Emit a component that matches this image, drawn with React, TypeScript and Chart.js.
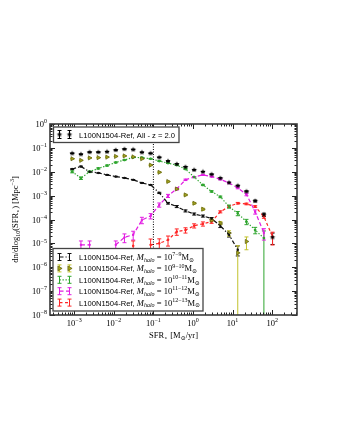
import React, { useEffect, useRef } from 'react';
import { Chart, registerables } from 'chart.js';
Chart.register(...registerables);

// ---------- data ----------
const sfrBins = [8.91e-4, 1.48e-3, 2.45e-3, 4.07e-3, 6.76e-3, 1.12e-2, 1.86e-2, 3.09e-2, 5.13e-2, 8.51e-2, 0.141, 0.234, 0.389, 0.646, 1.07, 1.78, 2.95, 4.9, 8.13, 13.5, 22.4, 37.2, 61.7, 102];

const phiAll = [5.9e-2, 5.4e-2, 6.6e-2, 6.6e-2, 6.9e-2, 8.1e-2, 8.9e-2, 8.5e-2, 6.5e-2, 5.9e-2, 4.0e-2, 2.8e-2, 2.1e-2, 1.6e-2, 1.2e-2, 1.0e-2, 7.8e-3, 5.4e-3, 3.5e-3, 2.6e-3, 1.5e-3, 6.0e-4, 1.6e-4, 1.8e-5];
const errAll = [0.02, 0.02, 0.02, 0.02, 0.02, 0.02, 0.02, 0.02, 0.02, 0.02, 0.02, 0.02, 0.02, 0.02, 0.02, 0.02, 0.03, 0.03, 0.04, 0.04, 0.05, 0.08, 0.15, 0.5];

const phiM7_9 = [1.3e-2, 1.66e-2, 1.0e-2, 8.9e-3, 7.4e-3, 6.3e-3, 5.5e-3, 4.6e-3, 3.4e-3, 2.8e-3, 1.3e-3, 4.8e-4, 3.5e-4, 2.3e-4, 1.7e-4, 1.4e-4, 1.1e-4, 5.4e-5, 2.3e-5, 5.4e-6];
const errM7_9 = [0.04, 0.04, 0.03, 0.03, 0.03, 0.03, 0.03, 0.03, 0.04, 0.04, 0.06, 0.08, 0.1, 0.1, 0.1, 0.1, 0.1, 0.15, 0.2, 0.45];

const phiM9_10 = [3.5e-2, 3.0e-2, 3.8e-2, 3.9e-2, 4.1e-2, 4.4e-2, 4.6e-2, 4.2e-2, 3.5e-2, 1.9e-2, 9.5e-3, 3.9e-3, 1.9e-3, 1.07e-3, 4.8e-4, 2.7e-4, 9.3e-5, 7.1e-5, 2.7e-5, 4.0e-6, 1.2e-5];
const errM9_10 = [0.02, 0.02, 0.02, 0.02, 0.02, 0.02, 0.02, 0.02, 0.02, 0.03, 0.04, 0.05, 0.06, 0.07, 0.08, 0.1, 0.12, 0.15, 0.25, 1.0, 0.55];

const phiM10_11 = [1.0e-2, 5.4e-3, 1.0e-2, 1.38e-2, 1.82e-2, 2.45e-2, 3.1e-2, 4.0e-2, 3.9e-2, 3.5e-2, 2.8e-2, 2.3e-2, 1.9e-2, 1.29e-2, 6.0e-3, 2.8e-3, 1.5e-3, 8.9e-4, 3.5e-4, 1.8e-4, 8.1e-5, 3.6e-5, 1.66e-5];
const errM10_11 = [0.1, 0.12, 0.08, 0.06, 0.05, 0.04, 0.03, 0.03, 0.03, 0.03, 0.03, 0.03, 0.03, 0.04, 0.05, 0.06, 0.07, 0.08, 0.15, 0.2, 0.25, 0.3, 1.0];

const phiM11_12 = [null, 8.7e-6, 8.7e-6, null, null, 8.7e-6, 1.78e-5, 2.3e-5, 9.5e-5, 1.41e-4, 4.1e-4, 9.8e-4, 1.9e-3, 4.6e-3, 6.0e-3, 7.4e-3, 6.3e-3, 4.8e-3, 3.4e-3, 2.1e-3, 1.12e-3, 2.1e-4, 2.75e-5];
const errM11_12 = [0, 0.45, 0.45, 0, 0, 0.45, 0.4, 0.4, 0.3, 0.25, 0.2, 0.15, 0.1, 0.07, 0.05, 0.05, 0.05, 0.05, 0.06, 0.08, 0.12, 0.2, 0.5];

const phiM12_13 = [null, null, null, null, null, null, null, 7.9e-6, null, 8.7e-6, 1.0e-5, 1.4e-5, 3.1e-5, 3.6e-5, 5.5e-5, 6.6e-5, 8.1e-5, 2.1e-4, 3.5e-4, 4.8e-4, 4.5e-4, 3.5e-4, 1.32e-4, 1.9e-5];
const errM12_13 = [0, 0, 0, 0, 0, 0, 0, 0.6, 0, 0.75, 0.55, 0.45, 0.3, 0.25, 0.2, 0.2, 0.15, 0.1, 0.08, 0.08, 0.08, 0.08, 0.15, 0.55];

const sfrCut = 0.1;
const xTickValues = [1e-3, 1e-2, 1e-1, 1e0, 1e1, 1e2];
const xTickExps = ['−3', '−2', '−1', '0', '1', '2'];
const yTickValues = [1e0, 1e-1, 1e-2, 1e-3, 1e-4, 1e-5, 1e-6, 1e-7, 1e-8];
const yTickExps = ['0', '−1', '−2', '−3', '−4', '−5', '−6', '−7', '−8'];
const simLabel = 'L100N1504-Ref, ';
const allLabel = 'L100N1504-Ref, All - z = 2.0';
const massRanges = ['7−9', '9−10', '10−11', '11−12', '12−13'];

const X_MIN = 2.45e-4, X_MAX = 423, Y_MIN = 1e-8, Y_MAX = 1;

// ---------- helpers ----------
const SERIF = '"Liberation Serif","DejaVu Serif",serif';
const SANS = '"Liberation Sans",Arial,sans-serif';
type Seg = { t: string; size: number; fam?: string; italic?: boolean; dy?: number };
const fontOf = (s: Seg) => `${s.italic ? 'italic ' : ''}${s.size}px ${s.fam || SERIF}`;
function drawRich(ctx: CanvasRenderingContext2D, segs: Seg[], x: number, y: number, align: string) {
  let w = 0;
  for (const s of segs) { ctx.font = fontOf(s); w += ctx.measureText(s.t).width; }
  let cx = align === 'left' ? x : align === 'center' ? x - w / 2 : x - w;
  ctx.textAlign = 'left';
  ctx.textBaseline = 'alphabetic';
  for (const s of segs) {
    ctx.font = fontOf(s);
    ctx.fillText(s.t, cx, y + (s.dy || 0));
    cx += ctx.measureText(s.t).width;
  }
}

function makeStar(r: number, color: string) {
  const c = document.createElement('canvas');
  const s = Math.ceil(r * 2 + 2);
  c.width = s; c.height = s;
  const g = c.getContext('2d')!;
  g.fillStyle = color;
  g.beginPath();
  for (let i = 0; i < 10; i++) {
    const a = -Math.PI / 2 + (i * Math.PI) / 5;
    const rr = i % 2 ? r * 0.45 : r;
    g.lineTo(s / 2 + rr * Math.cos(a), s / 2 + rr * Math.sin(a));
  }
  g.closePath();
  g.fill();
  return c;
}

function drawErr(ctx: CanvasRenderingContext2D, x: number, y1: number, y2: number, color: string) {
  ctx.strokeStyle = color;
  ctx.lineWidth = 1;
  ctx.setLineDash([]);
  ctx.beginPath();
  ctx.moveTo(x, y1); ctx.lineTo(x, y2);
  ctx.moveTo(x - 2, y1); ctx.lineTo(x + 2, y1);
  ctx.moveTo(x - 2, y2); ctx.lineTo(x + 2, y2);
  ctx.stroke();
}

export default function App() {
  const ref = useRef<HTMLCanvasElement>(null);
  useEffect(() => {
    const star = makeStar(2.8, '#000');
    const series = [
      { key: 'all', phi: phiAll, err: errAll, color: '#000', errColor: '#000', line: false, dash: [] as number[], style: star as any, radius: 3, rot: 0, fill: '#000', bw: 0 },
      { key: 'm79', phi: phiM7_9, err: errM7_9, color: '#111', errColor: '#111', line: true, dash: [4, 2, 1.2, 2], style: 'rect', radius: 0.9, rot: 0, fill: '#111', bw: 1 },
      { key: 'm910', phi: phiM9_10, err: errM9_10, color: '#5a5a0c', errColor: '#c2c22c', line: false, dash: [], style: 'triangle', radius: 2.4, rot: 90, fill: '#a6a61e', bw: 0.7 },
      { key: 'm1011', phi: phiM10_11, err: errM10_11, color: '#2ea52e', errColor: '#2ea52e', line: true, dash: [1.3, 1.7], style: 'rect', radius: 1.1, rot: 0, fill: '#2ea52e', bw: 1 },
      { key: 'm1112', phi: phiM11_12, err: errM11_12, color: '#e21ee2', errColor: '#e21ee2', line: true, dash: [4, 2.5], style: 'rect', radius: 0.9, rot: 0, fill: '#e21ee2', bw: 1 },
      { key: 'm1213', phi: phiM12_13, err: errM12_13, color: '#ff2626', errColor: '#ff2626', line: true, dash: [3, 2.5], style: 'rect', radius: 1, rot: 0, fill: '#ff2626', bw: 1 },
    ];

    const datasets = series.map((s) => ({
      label: s.key,
      data: s.phi.map((v, i) => ({ x: sfrBins[i], y: v })),
      showLine: s.line,
      spanGaps: false,
      borderColor: s.color,
      backgroundColor: s.fill,
      borderWidth: s.line ? 1.2 : s.bw,
      borderDash: s.dash,
      pointStyle: s.style,
      pointRadius: s.radius,
      pointRotation: s.rot,
      pointBorderWidth: s.bw,
      pointBorderColor: s.color,
      pointBackgroundColor: s.fill,
    }));

    const errPlugin = {
      id: 'errbars',
      beforeDatasetsDraw(chart: any) {
        const ctx = chart.ctx as CanvasRenderingContext2D;
        const xs = chart.scales.x, ys = chart.scales.y, ca = chart.chartArea;
        ctx.save();
        ctx.beginPath();
        ctx.rect(ca.left, ca.top, ca.right - ca.left, ca.bottom - ca.top);
        ctx.clip();
        for (let k = 0; k < series.length; k++) {
          const s = series[k];
          s.phi.forEach((v, i) => {
            if (v == null || !s.err[i]) return;
            const e = s.err[i];
            const px = xs.getPixelForValue(sfrBins[i]);
            const top = ys.getPixelForValue(v * (1 + e));
            const bot = e >= 1 ? ca.bottom + 3 : ys.getPixelForValue(v * (1 - e));
            drawErr(ctx, px, top, bot, s.errColor);
          });
        }
        ctx.restore();
      },
    };

    const decoPlugin = {
      id: 'deco',
      afterDraw(chart: any) {
        const ctx = chart.ctx as CanvasRenderingContext2D;
        const xs = chart.scales.x, ys = chart.scales.y, ca = chart.chartArea;
        ctx.save();
        // vertical dotted cut
        const cx = xs.getPixelForValue(sfrCut);
        ctx.strokeStyle = '#000';
        ctx.lineWidth = 1;
        ctx.setLineDash([1, 1.5]);
        ctx.beginPath();
        ctx.moveTo(cx, ca.top); ctx.lineTo(cx, ca.bottom);
        ctx.stroke();
        ctx.setLineDash([]);

        // ticks
        ctx.strokeStyle = '#222';
        ctx.lineWidth = 1;
        ctx.beginPath();
        for (let d = -4; d <= 2; d++) {
          for (let m = 1; m <= 9; m++) {
            const v = m * Math.pow(10, d);
            if (v < X_MIN || v > X_MAX) continue;
            const p = Math.round(xs.getPixelForValue(v)) + 0.5;
            const L = m === 1 ? 5 : 2.5;
            ctx.moveTo(p, ca.bottom); ctx.lineTo(p, ca.bottom - L);
            ctx.moveTo(p, ca.top); ctx.lineTo(p, ca.top + L);
          }
        }
        for (let d = -8; d <= 0; d++) {
          for (let m = 1; m <= 9; m++) {
            const v = m * Math.pow(10, d);
            if (v < Y_MIN || v > Y_MAX) continue;
            const p = Math.round(ys.getPixelForValue(v)) + 0.5;
            const L = m === 1 ? 5 : 2.5;
            ctx.moveTo(ca.left, p); ctx.lineTo(ca.left + L, p);
            ctx.moveTo(ca.right, p); ctx.lineTo(ca.right - L, p);
          }
        }
        ctx.stroke();
        // frame
        ctx.strokeStyle = '#3a3a3a';
        ctx.lineWidth = 1.6;
        ctx.strokeRect(ca.left, ca.top, ca.right - ca.left, ca.bottom - ca.top);

        // tick labels
        ctx.fillStyle = '#000';
        xTickValues.forEach((v, i) => {
          const p = xs.getPixelForValue(v);
          drawRich(ctx, [{ t: '10', size: 8.5 }, { t: xTickExps[i], size: 6, dy: -3.8 }], p, 326, 'center');
        });
        yTickValues.forEach((v, i) => {
          const p = ys.getPixelForValue(v);
          drawRich(ctx, [{ t: '10', size: 8.5 }, { t: yTickExps[i], size: 6, dy: -3.8 }], 47, p + 3, 'right');
        });

        // axis titles
        drawRich(ctx, [
          { t: 'SFR', size: 8.5 }, { t: '⋆', size: 6, dy: 1.5 }, { t: ' [M', size: 8.5 }, { t: '⊙', size: 6, dy: 1.5 }, { t: '/yr]', size: 8.5 },
        ], (ca.left + ca.right) / 2, 338, 'center');
        ctx.save();
        ctx.translate(15, (ca.top + ca.bottom) / 2);
        ctx.rotate(-Math.PI / 2);
        drawRich(ctx, [
          { t: 'dn/dlog', size: 8.5 }, { t: '10', size: 6, dy: 1.8 }, { t: '(SFR', size: 8.5 }, { t: '⋆', size: 6, dy: 1.8 },
          { t: ') [Mpc', size: 8.5 }, { t: '−3', size: 6, dy: -3.8 }, { t: ']', size: 8.5 },
        ], 0, 3, 'center');
        ctx.restore();

        // legends
        const box = (x1: number, y1: number, x2: number, y2: number) => {
          ctx.fillStyle = '#fff';
          ctx.fillRect(x1, y1, x2 - x1, y2 - y1);
          ctx.strokeStyle = '#444';
          ctx.lineWidth = 1.3;
          ctx.strokeRect(x1, y1, x2 - x1, y2 - y1);
        };
        const hx1 = 59.5, hx2 = 69.5;
        // top legend
        box(53.5, 127, 179, 142.5);
        const ly = 134.5;
        drawErr(ctx, hx1, ly - 4, ly + 4, '#000');
        drawErr(ctx, hx2, ly - 4, ly + 4, '#000');
        ctx.drawImage(star, hx1 - star.width / 2, ly - star.height / 2);
        ctx.drawImage(star, hx2 - star.width / 2, ly - star.height / 2);
        ctx.fillStyle = '#000';
        drawRich(ctx, [{ t: allLabel, size: 7.6, fam: SANS }], 79, ly + 3, 'left');

        // bottom legend
        box(53, 248.5, 203, 311);
        const rowY = [257, 268.4, 279.8, 291.2, 302.6];
        massRanges.forEach((r, j) => {
          const s = series[j + 1];
          const y = rowY[j];
          if (s.line) {
            ctx.strokeStyle = s.color;
            ctx.lineWidth = 1.2;
            ctx.setLineDash(s.dash);
            ctx.beginPath();
            ctx.moveTo(hx1, y); ctx.lineTo(hx2, y);
            ctx.stroke();
            ctx.setLineDash([]);
          }
          drawErr(ctx, hx1, y - 3.5, y + 3.5, s.errColor);
          drawErr(ctx, hx2, y - 3.5, y + 3.5, s.errColor);
          if (s.style === 'triangle') {
            for (const hx of [hx1, hx2]) {
              ctx.fillStyle = s.fill;
              ctx.strokeStyle = s.color;
              ctx.lineWidth = 0.7;
              ctx.beginPath();
              ctx.moveTo(hx + 2.6, y); ctx.lineTo(hx - 1.6, y - 2.4); ctx.lineTo(hx - 1.6, y + 2.4);
              ctx.closePath(); ctx.fill(); ctx.stroke();
            }
          }
          ctx.fillStyle = '#000';
          drawRich(ctx, [
            { t: simLabel, size: 7.6, fam: SANS },
            { t: 'M', size: 8.5, italic: true },
            { t: 'halo', size: 6, italic: true, dy: 1.8 },
            { t: ' = 10', size: 8.5 },
            { t: r, size: 6, dy: -3.8 },
            { t: 'M', size: 8.5 },
            { t: '⊙', size: 6, dy: 1.8 },
          ], 79, y + 3, 'left');
        });
        ctx.restore();
      },
    };

    const chart = new Chart(ref.current!, {
      type: 'scatter',
      data: { datasets: datasets as any },
      options: {
        responsive: false,
        animation: false,
        devicePixelRatio: 1,
        layout: { padding: { left: 50, top: 124, right: 43, bottom: 125 } },
        scales: {
          x: { type: 'logarithmic', min: X_MIN, max: X_MAX, display: false },
          y: { type: 'logarithmic', min: Y_MIN, max: Y_MAX, display: false },
        },
        plugins: { legend: { display: false }, tooltip: { enabled: false } },
      },
      plugins: [errPlugin, decoPlugin],
    });
    return () => chart.destroy();
  }, []);
  return (
    <div style={{ position: 'fixed', left: 0, top: 0, width: 340, height: 440, background: '#fff' }}>
      <canvas ref={ref} width={340} height={440} style={{ display: 'block' }} />
    </div>
  );
}
